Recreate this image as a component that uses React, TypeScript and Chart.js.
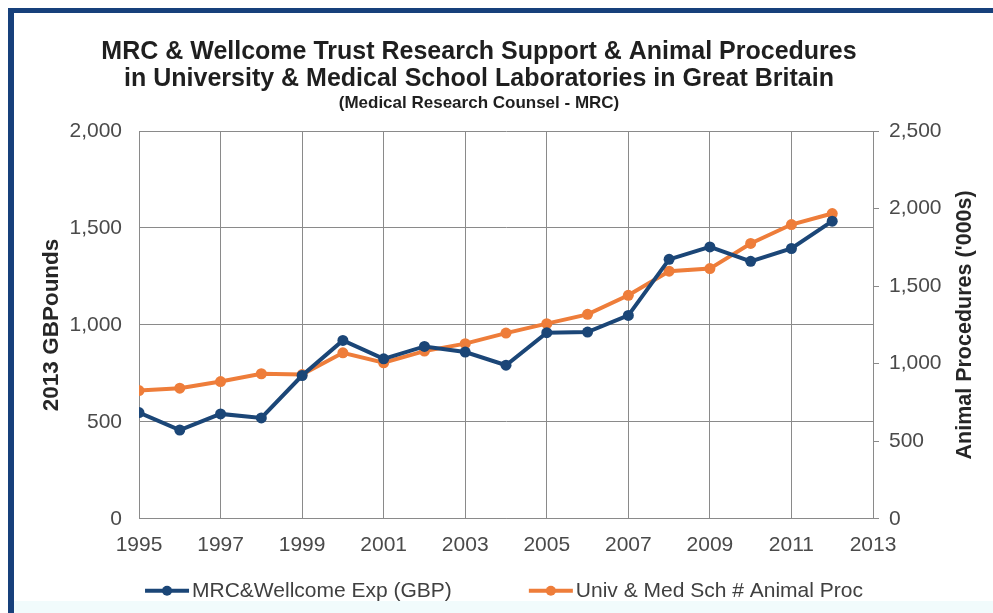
import React, { useEffect, useRef } from "react";
import { Chart, registerables } from "chart.js";

Chart.register(...registerables);

const years = [1995, 1996, 1997, 1998, 1999, 2000, 2001, 2002, 2003, 2004, 2005, 2006, 2007, 2008, 2009, 2010, 2011, 2012];
const mrcExp = [548, 458, 541, 520, 739, 920, 825, 889, 860, 792, 960, 963, 1049, 1338, 1402, 1328, 1394, 1535];
const animalProc = [827, 842, 885, 935, 930, 1070, 1006, 1081, 1129, 1197, 1258, 1318, 1441, 1596, 1613, 1775, 1897, 1968];

const titleLines = [
  "MRC & Wellcome Trust Research Support & Animal Procedures",
  "in University & Medical School Laboratories in Great Britain",
];
const subtitleText = "(Medical Research Counsel - MRC)";
const seriesNames = ["MRC&Wellcome Exp (GBP)", "Univ & Med Sch # Animal Proc"];
const leftAxisTitle = "2013 GBPounds";
const rightAxisTitle = "Animal Procedures ('000s)";

const BLUE = "#1b4677";
const ORANGE = "#ee7d3a";
const COLORS = [BLUE, ORANGE];
const FONT = "'Liberation Sans', Arial, sans-serif";

const rightTitlePlugin = {
  id: "rightTitle",
  afterDraw(chart: any) {
    const { ctx, chartArea } = chart;
    const s = chart.scales.y2;
    ctx.save();
    ctx.translate(s.right + 7, (chartArea.top + chartArea.bottom) / 2);
    ctx.rotate(-Math.PI / 2);
    ctx.font = `bold 21.5px ${FONT}`;
    ctx.fillStyle = "#262626";
    ctx.textAlign = "center";
    ctx.textBaseline = "middle";
    ctx.fillText(rightAxisTitle, 0, 0);
    ctx.restore();
  },
};

const legendPlugin = {
  id: "excelLegend",
  afterDraw(chart: any) {
    const { ctx, chartArea } = chart;
    const lineW = 44;
    const gapText = 3;
    const gapItems = 77;
    ctx.save();
    ctx.font = `21px ${FONT}`;
    const widths = seriesNames.map((t) => lineW + gapText + ctx.measureText(t).width);
    const total = widths.reduce((a, b) => a + b, 0) + gapItems * (seriesNames.length - 1);
    let x = (chartArea.left + chartArea.right) / 2 - total / 2 - 2;
    const y = chartArea.bottom + 72;
    seriesNames.forEach((t, i) => {
      const c = COLORS[i];
      ctx.strokeStyle = c;
      ctx.lineWidth = 4;
      ctx.beginPath();
      ctx.moveTo(x, y);
      ctx.lineTo(x + lineW, y);
      ctx.stroke();
      ctx.fillStyle = c;
      ctx.beginPath();
      ctx.arc(x + lineW / 2, y, 5, 0, Math.PI * 2);
      ctx.fill();
      ctx.fillStyle = "#404040";
      ctx.textAlign = "left";
      ctx.textBaseline = "middle";
      ctx.fillText(t, x + lineW + gapText, y);
      x += widths[i] + gapItems;
    });
    ctx.restore();
  },
};

export default function App() {
  const ref = useRef<HTMLCanvasElement>(null);

  useEffect(() => {
    const chart = new Chart(ref.current!, {
      type: "line",
      data: {
        datasets: [
          {
            label: seriesNames[0],
            data: years.map((y, i) => ({ x: y, y: mrcExp[i] })),
            borderColor: BLUE,
            backgroundColor: BLUE,
            borderWidth: 4,
            pointRadius: 5.5,
            pointBorderWidth: 0,
            yAxisID: "y",
          },
          {
            label: seriesNames[1],
            data: years.map((y, i) => ({ x: y, y: animalProc[i] })),
            borderColor: ORANGE,
            backgroundColor: ORANGE,
            borderWidth: 4,
            pointRadius: 5.5,
            pointBorderWidth: 0,
            yAxisID: "y2",
          },
        ],
      },
      options: {
        responsive: false,
        animation: false,
        layout: { padding: { left: 0, right: 35, top: 0, bottom: 41 } },
        plugins: {
          title: {
            display: true,
            text: titleLines,
            color: "#1f1f1f",
            font: { family: FONT, size: 25, weight: "bold", lineHeight: 1.1 },
            padding: { top: 38, bottom: 0 },
          },
          subtitle: {
            display: true,
            text: subtitleText,
            color: "#1f1f1f",
            font: { family: FONT, size: 17, weight: "bold", lineHeight: 1.2 },
            padding: { top: 0, bottom: 17.6 },
          },
          legend: { display: false },
          tooltip: { enabled: false },
        },
        scales: {
          x: {
            type: "linear",
            min: 1995,
            max: 2013,
            grid: { color: "#8a8a8a", lineWidth: 1, drawTicks: false },
            border: { color: "#8a8a8a" },
            ticks: {
              stepSize: 2,
              padding: 14,
              color: "#4a4a4a",
              font: { family: FONT, size: 21 },
              callback: (v: any) => String(v),
            },
          },
          y: {
            position: "left",
            min: 0,
            max: 2000,
            afterFit: (s: any) => {
              s.width = 139;
            },
            grid: { color: "#8a8a8a", lineWidth: 1, drawTicks: false },
            border: { color: "#8a8a8a" },
            ticks: {
              stepSize: 500,
              padding: 17,
              color: "#4a4a4a",
              font: { family: FONT, size: 21 },
            },
            title: {
              display: true,
              text: leftAxisTitle,
              color: "#262626",
              font: { family: FONT, size: 22.5, weight: "bold" },
              padding: { top: 38, bottom: 0 },
            },
          },
          y2: {
            position: "right",
            min: 0,
            max: 2500,
            afterFit: (s: any) => {
              s.width = 85;
            },
            grid: { drawOnChartArea: false, color: "#8a8a8a", tickLength: 6 },
            border: { color: "#8a8a8a" },
            ticks: {
              stepSize: 500,
              padding: 10,
              color: "#4a4a4a",
              font: { family: FONT, size: 21 },
            },
          },
        },
      },
      plugins: [rightTitlePlugin, legendPlugin],
    });
    return () => chart.destroy();
  }, []);

  return (
    <div style={{ position: "fixed", left: 0, top: 0, width: 993, height: 613, background: "#fff", overflow: "hidden" }}>
      <div style={{ position: "absolute", left: 8, top: 8, width: 985, height: 5, background: "#17407b" }} />
      <div style={{ position: "absolute", left: 8, top: 8, width: 6, height: 605, background: "#17407b" }} />
      <div style={{ position: "absolute", left: 14, top: 601, width: 979, height: 12, background: "#f1fbfc" }} />
      <canvas ref={ref} width={993} height={613} style={{ position: "absolute", left: 0, top: 0, width: 993, height: 613 }} />
    </div>
  );
}
